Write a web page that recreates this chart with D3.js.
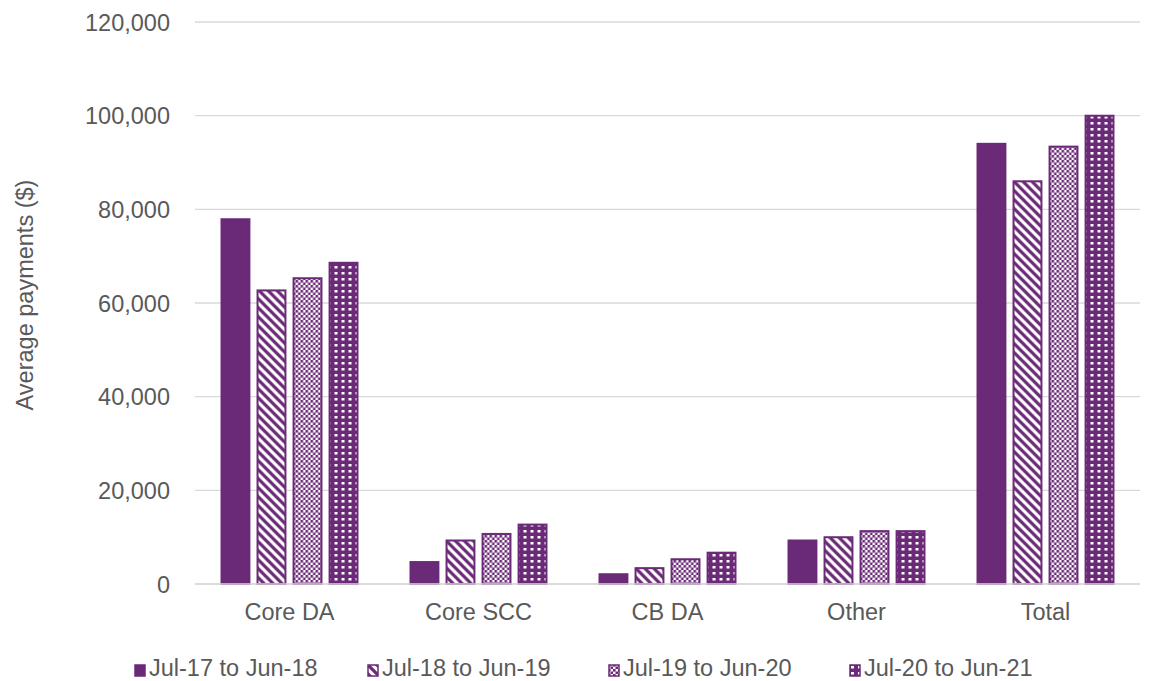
<!DOCTYPE html>
<html>
<head>
<meta charset="utf-8">
<script src="https://cdn.jsdelivr.net/npm/d3@7"></script>
<style>
  body { margin: 0; background: #fff; }
  text { font-family: "Liberation Sans", Arial, sans-serif; fill: #595959; }
</style>
</head>
<body>
<div class="chart"></div>
<script>
var categories = ['Core DA', 'Core SCC', 'CB DA', 'Other', 'Total'];
var seriesNames = ['Jul-17 to Jun-18', 'Jul-18 to Jun-19', 'Jul-19 to Jun-20', 'Jul-20 to Jun-21'];
var fy18 = [78100, 4900, 2300, 9500, 94200];
var fy19 = [62900, 9500, 3600, 10200, 86200];
var fy20 = [65500, 10900, 5500, 11500, 93600];
var fy21 = [68800, 12900, 6900, 11500, 100200];
var series = [fy18, fy19, fy20, fy21];
var yTicks = [0, 20000, 40000, 60000, 80000, 100000, 120000];

var width = 1153;
var height = 681;
var purple = '#6b2a77';
var fontSize = 23.5;
var margin = {top: 22, right: 13, bottom: 97, left: 195};

var svg = d3.select('.chart').append('svg').attr('width', width).attr('height', height);
var defs = svg.append('defs');

// fill patterns for the hatched series
var p1 = defs.append('pattern').attr('id', 'pat-diag').attr('patternUnits', 'userSpaceOnUse')
  .attr('width', 9).attr('height', 9);
p1.append('rect').attr('width', 9).attr('height', 9).attr('fill', '#fff');
p1.append('path').attr('d', 'M0,0 L9,9 M-4.5,4.5 L4.5,13.5 M4.5,-4.5 L13.5,4.5')
  .attr('stroke', purple).attr('stroke-width', 3.2);

var p2 = defs.append('pattern').attr('id', 'pat-check').attr('patternUnits', 'userSpaceOnUse')
  .attr('width', 5).attr('height', 5);
p2.append('rect').attr('width', 5).attr('height', 5).attr('fill', '#fff');
p2.append('rect').attr('width', 2.6).attr('height', 2.6).attr('fill', purple);
p2.append('rect').attr('x', 2.5).attr('y', 2.5).attr('width', 2.6).attr('height', 2.6).attr('fill', purple);

var p3 = defs.append('pattern').attr('id', 'pat-dots').attr('patternUnits', 'userSpaceOnUse')
  .attr('width', 7).attr('height', 6);
p3.append('rect').attr('width', 7).attr('height', 6).attr('fill', purple);
p3.append('rect').attr('x', 2).attr('y', 2).attr('width', 3).attr('height', 2.5).attr('fill', '#fff');

var fills = [purple, 'url(#pat-diag)', 'url(#pat-check)', 'url(#pat-dots)'];

var x0 = d3.scaleBand().domain(categories).range([margin.left, width - margin.right]).paddingInner(0.27).paddingOuter(0.135);
var x1 = d3.scaleBand().domain(d3.range(4)).range([0, x0.bandwidth()]).paddingInner(0.17);
var y = d3.scaleLinear().domain([0, 120000]).range([height - margin.bottom, margin.top]);

// gridlines
svg.append('g').selectAll('line').data(yTicks).enter().append('line')
  .attr('x1', margin.left).attr('x2', width - margin.right)
  .attr('y1', function(d){ return y(d); }).attr('y2', function(d){ return y(d); })
  .attr('stroke', '#d9d9d9').attr('stroke-width', 1.3);

var yAxis = svg.append('g').attr('transform', 'translate(' + (margin.left - 25) + ',0)')
  .call(d3.axisLeft(y).tickValues(yTicks).tickSize(0).tickFormat(d3.format(',')));
yAxis.select('.domain').remove();
yAxis.selectAll('text').attr('font-size', fontSize).attr('dy', '0.35em').attr('x', 0);

svg.append('text').attr('transform', 'translate(33,' + (y(60000) - 8) + ') rotate(-90)')
  .attr('text-anchor', 'middle').attr('font-size', fontSize).text('Average payments ($)');

var groups = svg.append('g').selectAll('g').data(categories).enter().append('g')
  .attr('transform', function(d){ return 'translate(' + x0(d) + ',0)'; });

groups.selectAll('rect').data(function(d, ci){
  return series.map(function(s, si){ return {s: si, v: s[ci]}; });
}).enter().append('rect')
  .attr('x', function(d){ return x1(d.s) + 1; })
  .attr('width', x1.bandwidth() - 2)
  .attr('y', function(d){ return y(d.v) + 1; })
  .attr('height', function(d){ return y(0) - y(d.v) - 1; })
  .attr('fill', function(d){ return fills[d.s]; })
  .attr('stroke', purple).attr('stroke-width', 2);

// baseline
svg.append('line').attr('x1', margin.left).attr('x2', width - margin.right)
  .attr('y1', y(0)).attr('y2', y(0)).attr('stroke', '#d9d9d9').attr('stroke-width', 1.5);

var xAxis = svg.append('g').attr('transform', 'translate(0,' + y(0) + ')')
  .call(d3.axisBottom(x0).tickSize(0));
xAxis.select('.domain').remove();
xAxis.selectAll('text').attr('font-size', fontSize).attr('dy', '1.4em');

// legend
var legendX = [134, 367, 608, 849];
var legend = svg.append('g').selectAll('g').data(seriesNames).enter().append('g')
  .attr('transform', function(d, i){ return 'translate(' + legendX[i] + ',664)'; });
legend.append('rect').attr('x', 1).attr('y', 1).attr('width', 10).attr('height', 11)
  .attr('fill', function(d, i){ return fills[i]; }).attr('stroke', purple).attr('stroke-width', 1.5);
legend.append('text').attr('x', 15).attr('y', 12).attr('font-size', fontSize)
  .text(function(d){ return d; });
</script>
</body>
</html>
